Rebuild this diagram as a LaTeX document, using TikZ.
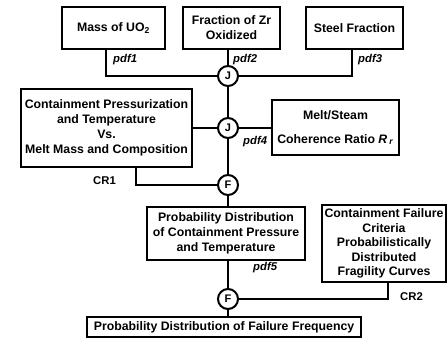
\documentclass[tikz,border=0pt]{standalone}
\usepackage{fontspec}
\setmainfont{Liberation Sans}
\begin{document}
\begin{tikzpicture}[x=1pt,y=-1pt,
 box/.style={draw, line width=1.3pt, align=center, inner sep=0pt,
   font=\bfseries\fontsize{12.3}{15}\selectfont},
 jn/.style={circle, draw, fill=white, line width=2pt, minimum size=20pt, inner sep=0pt,
   font=\bfseries\fontsize{11}{11}\selectfont},
 conn/.style={line width=2.2pt},
 lab/.style={font=\bfseries\itshape\fontsize{11.3}{11}\selectfont, inner sep=0pt, anchor=west},
 crlab/.style={font=\bfseries\fontsize{11.3}{11}\selectfont, inner sep=0pt, anchor=west}]
\useasboundingbox (0,0) rectangle (447,338);
\fill[white] (0,0) rectangle (447,338);
% boxes
\node[box, minimum width=103pt, minimum height=42pt] (mass) at (113.5,28) {Mass of UO\textsubscript{2}};
\node[box, minimum width=97pt, minimum height=42pt] (zr) at (231.5,28) {Fraction of Zr\\Oxidized};
\node[box, minimum width=97pt, minimum height=42pt] (steel) at (354.5,28) {Steel Fraction};
\node[box, minimum width=171pt, minimum height=78pt] (cp) at (106.5,128) {Containment Pressurization\\and Temperature\\Vs.\\Melt Mass and Composition};
\node[box, minimum width=127pt, minimum height=55pt, font=\bfseries\fontsize{12.3}{24}\selectfont] (melt) at (335.5,127.5) {Melt/Steam\\Coherence Ratio \textit{R}\,\textsubscript{\textit{r}}};
\node[box, minimum width=158pt, minimum height=53pt] (prob) at (226,233.5) {Probability Distribution\\of Containment Pressure\\and Temperature};
\node[box, minimum width=124pt, minimum height=77pt, font=\bfseries\fontsize{12.3}{14.5}\selectfont] (cf) at (384,243.5) {Containment Failure\\Criteria\\Probabilistically\\Distributed\\Fragility Curves};
\node[box, minimum width=274pt, minimum height=20pt] (fin) at (224,327) {Probability Distribution of Failure Frequency};
% junctions
\node[jn] (J1) at (228,76) {J};
\node[jn] (J2) at (228,128) {J};
\node[jn] (F1) at (228,185) {F};
\node[jn] (F2) at (228,299) {F};
% connectors
\draw[conn] ([xshift=-7.5pt]mass.south) |- (J1.west);
\draw[conn] (J1 |- zr.south) -- (J1.north);
\draw[conn] ([xshift=-2.5pt]steel.south) |- (J1.east);
\draw[conn] (J1.south) -- (J2.north);
\draw[conn] (cp.east) -- (J2.west);
\draw[conn] (J2.east) -- (J2.east -| melt.west);
\draw[conn] (J2.south) -- (F1.north);
\draw[conn] ([xshift=29.5pt]cp.south) |- (F1.west);
\draw[conn] (F1.south) -- (F1 |- prob.north);
\draw[conn] (F1 |- prob.south) -- (F2.north);
\draw[conn] ([xshift=4pt]cf.south) |- (F2.east);
\draw[conn] (F2.south) -- (F2 |- fin.north);
% labels
\node[lab] (p1) at (113,60) {pdf1};
\node[lab] (p2) at (233,60) {pdf2};
\node[lab] (p3) at (358,60) {pdf3};
\node[lab] (p4) at (243,142) {pdf4};
\node[lab] (p5) at (253,268) {pdf5};
\node[crlab] (c1) at (93,181) {CR1};
\node[crlab] (c2) at (400,297) {CR2};
\end{tikzpicture}
\end{document}
